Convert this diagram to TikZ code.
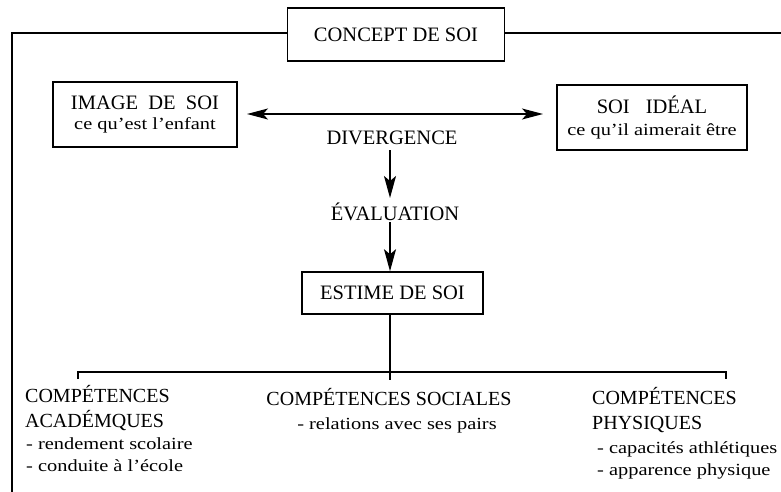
\documentclass[tikz,border=0pt]{standalone}
\usepackage{fontspec}
\usepackage{graphicx}
\setmainfont{Liberation Serif}
\usetikzlibrary{arrows.meta}
\newcommand\headf{\fontsize{20.5}{24}\selectfont}
\newcommand\compf{\fontsize{20}{24}\selectfont}
% small explanatory lines: set a little wider than the font's natural width
\newcommand\notetxt[1]{\scalebox{1.2}[1]{\fontsize{17}{20}\selectfont #1}}
\begin{document}
\begin{tikzpicture}[x=1pt,y=-1pt,
  box/.style={draw,line width=1.5pt,inner sep=0pt,align=center},
  lbl/.style={inner sep=0pt,align=center},
  txt/.style={inner sep=0pt,anchor=base west},
  line/.style={line width=1.6pt},
  dblarr/.style={line width=1.6pt,{Stealth[length=21pt,width=11pt,inset=5pt]}-{Stealth[length=21pt,width=11pt,inset=5pt]}},
  arr/.style={line width=1.6pt,-{Stealth[length=22pt,width=12pt,inset=5pt]}},
  big/.style={font=\headf}]
\useasboundingbox (0,0) rectangle (781,492);
% boxes
\node[box,big,minimum width=217pt,minimum height=53pt] (concept) at (396,34.5) {CONCEPT DE SOI};
\node[box,minimum width=184pt,minimum height=65pt] (image) at (145,114.5)
  {{\headf IMAGE\ \ DE\ \ SOI}\\[7pt]\notetxt{ce qu'est l'enfant}};
\node[box,minimum width=190pt,minimum height=65pt] (ideal) at (652,117.5)
  {{\headf SOI\hspace{16pt}IDÉAL}\\[8pt]\notetxt{ce qu'il aimerait être}};
\node[box,big,minimum width=181pt,minimum height=42pt] (estime) at (392.5,293) {ESTIME DE SOI};
% labels between the boxes
\node[lbl,big] (div) at (392,138) {DIVERGENCE};
\node[lbl,big] (eval) at (395,212) {ÉVALUATION};
% frame lines
\coordinate (fl) at (12,33);
\coordinate (fb) at (12,492);
\coordinate (fr) at (781,33);
\draw[line] (concept.west |- fl) -- (fl) -- (fb);
\draw[line] (concept.east |- fr) -- (fr);
% arrows
\coordinate (hl) at (247,114);
\coordinate (hr) at (543,114);
\draw[dblarr] (hl) -- (hr);
\coordinate (a1) at (390,150);
\coordinate (a2) at (390,198);
\coordinate (a3) at (390,222);
\draw[arr] (a1) -- (a2);
\draw[arr] (a3) -- (estime.north -| a3);
% branches
\coordinate (bl) at (78,372);
\coordinate (br) at (726,372);
\coordinate (bc) at (390,380);
\draw[line] (estime.south -| bc) -- (bc);
\draw[line] ([yshift=-7pt]bl) -- (bl) -- (br) -- ([yshift=-7pt]br);
% academic skills
\node[txt,font=\compf] (acad1) at (25,402) {COMPÉTENCES};
\node[txt,font=\compf] (acad2) at (25,427) {ACADÉMQUES};
\node[txt] (acad3) at (26,449) {\notetxt{- rendement scolaire}};
\node[txt] (acad4) at (26,471) {\notetxt{- conduite à l'école}};
% social skills
\node[lbl,anchor=base,font=\compf] (soc1) at (389,405) {COMPÉTENCES SOCIALES};
\node[lbl,anchor=base] (soc2) at (397,429) {\notetxt{- relations avec ses pairs}};
% physical skills
\node[txt,font=\compf] (phys1) at (592,404) {COMPÉTENCES};
\node[txt,font=\compf] (phys2) at (592,429) {PHYSIQUES};
\node[txt] (phys3) at (597,453) {\notetxt{- capacités athlétiques}};
\node[txt] (phys4) at (597,475) {\notetxt{- apparence physique}};
\end{tikzpicture}
\end{document}
